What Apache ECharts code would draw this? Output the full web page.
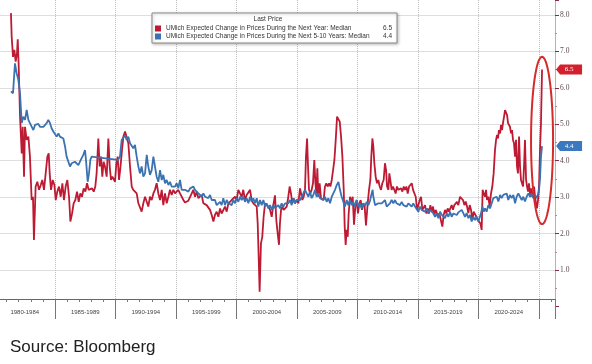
<!DOCTYPE html>
<html>
<head>
<meta charset="utf-8">
<script src="https://cdn.jsdelivr.net/npm/echarts@6/dist/echarts.min.js"></script>
<style>
html,body{margin:0;padding:0;background:#fff;}
#c{width:592px;height:364px;}
</style>
</head>
<body>
<div id="c"></div>
<script>
// ---- Data ----
const seriesNames = [
  'UMich Expected Change in Prices During the Next Year: Median',
  'UMich Expected Change in Prices During the Next 5-10 Years: Median'
];
const lastPrices = ['6.5', '4.4'];
const tickLabelYears = [1980, 1985, 1990, 1995, 2000, 2005, 2010, 2015, 2020];

const redYears = [1981.36,1981.42,1981.53,1981.64,1981.75,1981.86,1981.92,1982.00,1982.11,1982.25,1982.33,1982.44,1982.52,1982.66,1982.80,1982.93,1983.07,1983.18,1983.26,1983.40,1983.54,1983.68,1983.82,1983.95,1984.09,1984.23,1984.37,1984.48,1984.56,1984.67,1984.81,1984.95,1985.06,1985.19,1985.33,1985.47,1985.61,1985.74,1985.88,1986.02,1986.16,1986.27,1986.41,1986.54,1986.68,1986.82,1986.96,1987.09,1987.23,1987.37,1987.51,1987.65,1987.78,1987.92,1988.06,1988.20,1988.33,1988.44,1988.58,1988.69,1988.80,1988.91,1989.02,1989.13,1989.27,1989.41,1989.52,1989.63,1989.74,1989.85,1989.96,1990.07,1990.18,1990.29,1990.40,1990.51,1990.65,1990.79,1990.92,1991.06,1991.20,1991.34,1991.47,1991.61,1991.75,1991.89,1992.02,1992.16,1992.30,1992.44,1992.58,1992.71,1992.85,1992.99,1993.13,1993.26,1993.40,1993.54,1993.68,1993.82,1993.95,1994.09,1994.23,1994.37,1994.50,1994.64,1994.78,1994.92,1995.06,1995.19,1995.33,1995.47,1995.61,1995.74,1995.88,1996.02,1996.16,1996.30,1996.43,1996.57,1996.71,1996.85,1996.98,1997.12,1997.26,1997.40,1997.53,1997.67,1997.81,1997.95,1998.09,1998.22,1998.36,1998.50,1998.64,1998.77,1998.91,1999.05,1999.19,1999.33,1999.46,1999.60,1999.74,1999.88,2000.01,2000.15,2000.29,2000.43,2000.56,2000.70,2000.84,2000.98,2001.12,2001.25,2001.39,2001.53,2001.67,2001.75,2001.83,2001.91,2002.02,2002.13,2002.24,2002.36,2002.49,2002.63,2002.77,2002.91,2003.04,2003.18,2003.29,2003.40,2003.51,2003.59,2003.68,2003.79,2003.90,2004.01,2004.15,2004.28,2004.39,2004.50,2004.61,2004.72,2004.83,2004.97,2005.11,2005.25,2005.33,2005.44,2005.55,2005.66,2005.74,2005.83,2005.91,2005.99,2006.10,2006.21,2006.32,2006.43,2006.52,2006.60,2006.68,2006.76,2006.87,2006.98,2007.09,2007.20,2007.31,2007.42,2007.53,2007.65,2007.76,2007.87,2007.98,2008.09,2008.20,2008.31,2008.42,2008.53,2008.64,2008.75,2008.86,2008.94,2009.02,2009.10,2009.19,2009.27,2009.38,2009.49,2009.60,2009.71,2009.82,2009.93,2010.04,2010.15,2010.26,2010.37,2010.48,2010.59,2010.70,2010.84,2010.95,2011.06,2011.14,2011.23,2011.31,2011.39,2011.50,2011.61,2011.72,2011.83,2011.94,2012.05,2012.16,2012.27,2012.36,2012.44,2012.55,2012.63,2012.71,2012.82,2012.93,2013.04,2013.15,2013.26,2013.37,2013.48,2013.60,2013.71,2013.82,2013.93,2014.04,2014.15,2014.26,2014.37,2014.48,2014.59,2014.70,2014.81,2014.92,2015.03,2015.14,2015.25,2015.36,2015.47,2015.58,2015.69,2015.80,2015.91,2016.02,2016.13,2016.24,2016.35,2016.46,2016.57,2016.68,2016.79,2016.90,2017.01,2017.12,2017.23,2017.34,2017.45,2017.56,2017.67,2017.78,2017.89,2018.00,2018.11,2018.22,2018.33,2018.47,2018.61,2018.72,2018.83,2018.94,2019.05,2019.16,2019.27,2019.38,2019.49,2019.60,2019.71,2019.82,2019.93,2020.04,2020.15,2020.26,2020.34,2020.43,2020.54,2020.62,2020.70,2020.81,2020.92,2021.03,2021.14,2021.25,2021.36,2021.45,2021.53,2021.61,2021.69,2021.78,2021.86,2021.94,2022.02,2022.11,2022.19,2022.27,2022.36,2022.44,2022.52,2022.60,2022.69,2022.77,2022.85,2022.93,2023.02,2023.10,2023.18,2023.26,2023.35,2023.43,2023.51,2023.60,2023.68,2023.76,2023.84,2023.93,2024.01,2024.09,2024.17,2024.26,2024.34,2024.42,2024.50,2024.59,2024.67,2024.75,2024.83,2024.92,2025.00,2025.08,2025.16,2025.25];
const redValues = [8.05,7.40,6.85,7.04,6.72,6.95,7.33,6.58,5.21,4.20,4.93,3.56,4.93,4.57,4.66,4.11,2.92,3.01,1.82,3.29,3.42,3.20,3.33,3.47,3.20,3.65,4.11,4.20,3.65,3.20,3.47,3.33,2.92,3.15,3.29,3.01,3.38,2.92,3.29,3.47,3.01,2.33,2.55,2.83,2.92,3.15,2.87,3.10,3.01,3.24,3.15,3.38,3.20,3.15,3.24,3.15,3.29,3.65,4.61,3.84,4.11,3.56,3.97,3.84,3.56,4.61,3.84,3.47,3.56,3.52,3.42,3.93,4.11,3.47,3.79,4.20,4.66,4.80,4.75,4.48,3.84,3.29,3.20,3.24,3.10,2.83,2.78,2.60,2.83,3.01,2.87,2.74,3.01,2.92,3.10,3.20,3.38,3.10,2.92,3.20,2.78,3.10,2.83,3.01,3.20,3.06,3.20,3.10,3.15,3.20,3.10,3.15,2.92,2.85,2.80,2.90,2.85,3.10,3.20,3.01,3.15,2.97,2.92,3.06,2.83,2.87,2.78,2.74,2.65,2.51,2.33,2.51,2.60,2.46,2.69,2.55,2.51,2.74,2.60,2.83,2.78,2.92,2.87,3.01,2.92,3.20,3.10,3.01,3.20,2.92,3.06,3.01,3.20,2.92,2.83,2.78,2.74,2.28,1.37,0.40,1.73,1.91,2.46,2.83,2.78,2.74,2.65,2.46,2.78,3.05,2.37,2.01,1.69,2.28,2.65,2.74,2.65,2.69,2.74,3.01,3.29,3.10,2.83,2.97,2.83,2.92,2.83,3.24,3.29,2.92,3.01,3.20,4.11,4.61,3.84,3.20,3.10,3.20,3.38,4.02,3.38,3.10,3.79,3.01,3.38,2.97,3.01,2.92,3.29,3.38,3.29,3.38,3.29,3.47,3.74,4.02,4.57,5.21,5.16,5.07,4.66,4.11,3.20,2.19,1.69,2.10,1.91,2.55,3.01,2.83,3.01,2.24,2.74,2.92,2.55,2.83,2.92,2.65,2.83,2.74,2.22,2.83,3.20,3.47,4.11,4.61,4.38,3.93,3.56,3.38,3.47,3.29,3.20,3.38,3.47,3.93,3.74,3.29,3.20,3.65,3.47,3.20,3.29,3.20,3.10,3.29,3.20,3.15,3.24,3.15,3.29,3.20,3.29,3.10,3.29,3.24,3.38,3.20,3.24,3.01,2.65,2.78,2.92,3.01,2.65,2.60,2.78,2.55,2.69,2.55,2.78,2.60,2.74,2.51,2.65,2.55,2.60,2.51,2.46,2.19,2.51,2.65,2.55,2.69,2.60,2.65,2.78,2.65,2.78,2.74,2.87,2.78,3.01,3.01,2.92,2.78,2.88,2.74,2.56,2.78,2.65,2.37,2.60,2.56,2.46,2.37,2.42,2.28,2.10,3.20,3.10,3.01,3.20,2.92,3.01,2.74,3.10,3.29,3.65,4.29,4.57,4.71,4.61,4.84,4.75,4.98,4.84,5.03,5.21,5.39,5.35,5.25,5.03,4.98,4.93,4.75,4.84,4.57,4.48,4.11,4.57,3.84,3.65,4.66,3.84,3.47,3.42,3.29,3.84,4.57,3.47,3.29,3.15,3.38,3.06,3.24,3.01,3.10,3.29,3.01,2.83,2.69,2.92,3.30,4.30,5.00,6.50];

const blueYears = [1981.36,1981.53,1981.64,1981.69,1981.83,1981.97,1982.11,1982.25,1982.38,1982.52,1982.66,1982.80,1982.93,1983.07,1983.21,1983.35,1983.48,1983.62,1983.76,1983.90,1984.04,1984.17,1984.31,1984.45,1984.59,1984.72,1984.86,1985.00,1985.14,1985.28,1985.41,1985.55,1985.69,1985.83,1985.96,1986.10,1986.24,1986.38,1986.52,1986.65,1986.79,1986.93,1987.07,1987.20,1987.34,1987.48,1987.56,1987.70,1987.81,1987.92,1988.03,1990.20,1990.37,1990.51,1990.65,1990.79,1990.92,1991.06,1991.20,1991.34,1991.47,1991.61,1991.75,1991.89,1992.02,1992.16,1992.30,1992.44,1992.58,1992.71,1992.85,1992.99,1993.13,1993.26,1993.40,1993.54,1993.68,1993.82,1993.95,1994.09,1994.23,1994.37,1994.50,1994.64,1994.78,1994.92,1995.06,1995.19,1995.33,1995.47,1995.61,1995.74,1995.88,1996.02,1996.16,1996.30,1996.43,1996.57,1996.71,1996.85,1996.98,1997.12,1997.26,1997.40,1997.53,1997.67,1997.81,1997.95,1998.09,1998.22,1998.36,1998.50,1998.64,1998.77,1998.91,1999.05,1999.19,1999.33,1999.46,1999.60,1999.74,1999.88,2000.01,2000.15,2000.29,2000.43,2000.56,2000.70,2000.84,2000.98,2001.12,2001.25,2001.39,2001.53,2001.67,2001.80,2001.94,2002.08,2002.22,2002.36,2002.49,2002.63,2002.77,2002.91,2003.04,2003.18,2003.32,2003.46,2003.59,2003.73,2003.87,2004.01,2004.15,2004.28,2004.42,2004.56,2004.70,2004.83,2004.97,2005.11,2005.25,2005.39,2005.52,2005.66,2005.80,2005.94,2006.07,2006.21,2006.35,2006.49,2006.62,2006.76,2006.90,2007.04,2007.17,2007.31,2007.45,2007.59,2007.73,2007.87,2008.00,2008.14,2008.28,2008.42,2008.55,2008.69,2008.83,2008.97,2009.10,2009.24,2009.38,2009.52,2009.65,2009.79,2009.93,2010.07,2010.20,2010.34,2010.48,2010.62,2010.76,2010.90,2011.03,2011.17,2011.25,2011.31,2011.45,2011.58,2011.72,2011.86,2012.00,2012.13,2012.27,2012.41,2012.55,2012.68,2012.82,2012.96,2013.10,2013.23,2013.37,2013.51,2013.65,2013.79,2013.93,2014.06,2014.20,2014.34,2014.48,2014.61,2014.75,2014.89,2015.03,2015.16,2015.30,2015.44,2015.58,2015.72,2015.85,2015.99,2016.13,2016.27,2016.41,2016.54,2016.68,2016.82,2016.96,2017.09,2017.23,2017.37,2017.51,2017.65,2017.78,2017.92,2018.06,2018.20,2018.33,2018.47,2018.61,2018.74,2018.88,2019.02,2019.16,2019.29,2019.43,2019.57,2019.71,2019.85,2019.99,2020.12,2020.21,2020.32,2020.43,2020.54,2020.67,2020.81,2020.95,2021.09,2021.22,2021.36,2021.50,2021.64,2021.78,2021.91,2022.05,2022.19,2022.33,2022.46,2022.60,2022.74,2022.88,2023.02,2023.15,2023.29,2023.43,2023.57,2023.70,2023.84,2023.98,2024.12,2024.26,2024.39,2024.53,2024.67,2024.81,2024.94,2025.00,2025.08,2025.16,2025.25];
const blueValues = [5.90,5.85,5.80,6.67,6.40,6.22,5.85,5.03,5.21,5.12,5.39,5.12,5.03,5.07,4.84,4.98,4.93,5.01,4.93,4.98,4.93,4.98,5.03,5.12,5.03,4.89,4.80,4.75,4.66,4.75,4.66,4.70,4.61,4.39,4.11,4.11,3.84,3.93,3.88,3.97,3.97,3.88,3.93,4.07,4.16,4.29,4.02,3.42,3.65,4.02,4.11,4.02,4.11,4.57,4.61,4.70,4.57,4.66,4.48,4.52,4.34,4.43,4.11,3.84,3.65,3.84,3.56,3.65,4.16,3.84,3.61,3.74,4.11,3.84,3.56,3.42,3.74,3.47,3.61,3.38,3.47,3.33,3.42,3.29,3.33,3.29,3.38,3.24,3.47,3.20,3.15,3.20,3.15,3.15,3.24,3.20,3.29,3.20,3.24,3.10,3.15,3.01,3.10,3.01,3.06,2.97,3.06,2.92,2.87,2.92,2.78,2.83,2.87,2.78,2.97,2.78,2.92,2.83,2.87,2.78,2.92,2.83,2.97,2.87,3.01,2.92,3.01,2.87,2.97,2.83,3.01,2.87,2.97,2.83,2.97,2.74,2.92,2.78,2.92,2.74,2.83,2.69,2.78,2.65,2.78,2.70,2.72,2.78,2.69,2.83,2.74,2.83,2.87,2.83,2.92,2.78,2.97,2.83,2.92,2.87,2.92,3.01,3.10,3.20,3.10,3.01,3.15,2.97,3.06,3.20,3.01,3.10,2.97,3.01,2.92,3.01,2.87,2.97,2.83,3.01,3.10,3.20,3.33,3.42,3.20,3.01,2.87,2.74,2.92,2.78,2.92,2.78,2.87,2.74,2.92,2.74,2.83,2.69,2.83,2.76,2.87,2.78,2.90,3.10,3.20,3.01,2.78,2.74,2.83,2.78,2.83,2.78,2.92,2.74,2.69,2.83,2.92,2.83,2.92,2.83,2.87,2.78,2.87,2.78,2.83,2.74,2.83,2.78,2.74,2.83,2.74,2.69,2.60,2.74,2.65,2.69,2.60,2.69,2.55,2.65,2.60,2.55,2.46,2.55,2.42,2.60,2.51,2.55,2.42,2.55,2.46,2.60,2.46,2.55,2.50,2.51,2.58,2.55,2.65,2.56,2.46,2.56,2.42,2.51,2.33,2.46,2.37,2.46,2.33,2.28,2.56,2.74,2.60,2.69,2.60,2.78,2.69,2.83,2.97,2.92,3.01,2.88,3.06,2.97,3.06,3.01,3.10,2.92,3.06,2.97,3.06,2.83,3.01,3.10,3.01,2.92,3.01,2.88,3.01,3.10,3.01,3.10,2.97,3.06,2.97,3.10,3.20,3.50,4.10,4.40];

// Annotation ellipse (data-space box around the 2025 jump)
const ellipseBox = {x0: 2024.34, x1: 2026.16, y0: 2.26, y1: 6.85};

const RED = '#bd1a33';
const BLUE = '#3a72b2';

function pairs(xs, ys) { return xs.map((x, i) => [x, ys[i]]); }
const redData = pairs(redYears, redValues);
const blueData = pairs(blueYears, blueValues);

const chart = echarts.init(document.getElementById('c'), null, {renderer: 'canvas'});
const tagPath = 'path://M0,5 L4,0 L26,0 L26,10 L4,10 Z';

function lastTag(data, color, text) {
  const last = data[data.length - 1];
  return {
    symbol: tagPath,
    symbolSize: [26, 10],
    symbolKeepAspect: false,
    silent: true,
    data: [{coord: last, symbolOffset: [27, 0],
      itemStyle: {color: color},
      label: {show: true, position: 'inside', formatter: text, color: '#fff', fontSize: 7, fontFamily: 'Liberation Serif'}}]
  };
}

const option = {
  animation: false,
  backgroundColor: '#fff',
  grid: {left: -5.5, right: 37, top: 0, bottom: 57.6, containLabel: false, outerBoundsMode: 'none'},
  title: [
    {text: 'Last Price', left: 268, top: 16, textAlign: 'center', z: 20, padding: 0,
     textStyle: {fontSize: 6.5, fontWeight: 'normal', color: '#333', fontFamily: 'Liberation Sans'}},
    {text: 'Source: Bloomberg', left: 10, top: 339, padding: 0,
     textStyle: {fontSize: 17, fontWeight: 'normal', color: '#222', fontFamily: 'Liberation Sans'}}
  ],
  legend: {
    show: true, orient: 'vertical', left: 152, top: 13, z: 10,
    padding: [12, 5, 3, 3], itemGap: 1, itemWidth: 6, itemHeight: 6,
    icon: 'rect', backgroundColor: '#fff', borderColor: '#8a8a8a', borderWidth: 1,
    shadowColor: 'rgba(0,0,0,0.25)', shadowBlur: 3, shadowOffsetX: 1, shadowOffsetY: 1,
    data: seriesNames,
    formatter: name => '{n|' + name + '}{v|' + lastPrices[seriesNames.indexOf(name)] + '}',
    textStyle: {fontSize: 6.5, color: '#333', fontFamily: 'Liberation Sans',
      rich: {n: {width: 214, fontSize: 6.5, color: '#333'}, v: {width: 12, align: 'right', fontSize: 6.5, color: '#333'}}}
  },
  xAxis: {
    type: 'value', min: 1980, max: 2026.32, interval: 5, offset: -7.4,
    axisLine: {show: true, onZero: false, lineStyle: {color: '#666', width: 1}},
    axisTick: {show: true, length: 20, lineStyle: {color: '#777'}},
    minorTick: {show: true, splitNumber: 5, length: 3, lineStyle: {color: '#777'}},
    axisLabel: {
      formatter: v => (tickLabelYears.indexOf(Math.round(v)) >= 0 && Math.abs(v - Math.round(v)) < 1e-6) ? (v + '-' + (v + 4)) : '',
      fontSize: 6, color: '#444', fontFamily: 'Liberation Sans', margin: 10.5,
      padding: [0, 0, 0, 60.5], showMinLabel: true, showMaxLabel: false, hideOverlap: false
    },
    splitLine: {show: true, lineStyle: {type: 'dotted', color: '#bdbdbd', width: 1}}
  },
  yAxis: {
    type: 'value', position: 'right', min: 0, max: 8.41, interval: 1,
    axisLine: {show: true, lineStyle: {color: '#c9a7b4', width: 1}},
    axisTick: {show: true, length: 4, lineStyle: {color: '#8a2a40'}},
    minorTick: {show: true, splitNumber: 2, length: 2, lineStyle: {color: '#b08a98'}},
    axisLabel: {
      formatter: v => (v >= 1 && Math.abs(v - Math.round(v)) < 1e-6) ? v.toFixed(1) : '',
      fontSize: 7.5, color: '#5a4a50', fontFamily: 'Liberation Serif', margin: 5
    },
    splitLine: {show: true, showMinLine: false, showMaxLine: false, lineStyle: {type: 'dotted', color: '#bdbdbd', width: 1}}
  },
  series: [
    {name: seriesNames[0], type: 'line', data: redData, showSymbol: false, z: 3,
     color: RED, lineStyle: {color: RED, width: 1.8}, markPoint: lastTag(redData, '#d3202f', lastPrices[0])},
    {name: seriesNames[1], type: 'line', data: blueData, showSymbol: false, z: 4,
     color: BLUE, lineStyle: {color: BLUE, width: 1.8}, markPoint: lastTag(blueData, '#3a78c0', lastPrices[1])}
  ]
};
chart.setOption(option);

// Red annotation ellipse positioned from data coordinates
const p0 = chart.convertToPixel({gridIndex: 0}, [ellipseBox.x0, ellipseBox.y1]);
const p1 = chart.convertToPixel({gridIndex: 0}, [ellipseBox.x1, ellipseBox.y0]);
const cx = (p0[0] + p1[0]) / 2, cy = (p0[1] + p1[1]) / 2;
const rx = Math.abs(p1[0] - p0[0]) / 2, ry = Math.abs(p1[1] - p0[1]) / 2;
const pts = [];
for (let i = 0; i < 120; i++) {
  const t = i / 120 * Math.PI * 2;
  pts.push([cx + rx * Math.cos(t), cy + ry * Math.sin(t)]);
}
chart.setOption({
  graphic: [{type: 'polygon', z: 50, silent: true, shape: {points: pts},
    style: {fill: 'none', stroke: '#d42b2b', lineWidth: 2}}]
});
</script>
</body>
</html>
